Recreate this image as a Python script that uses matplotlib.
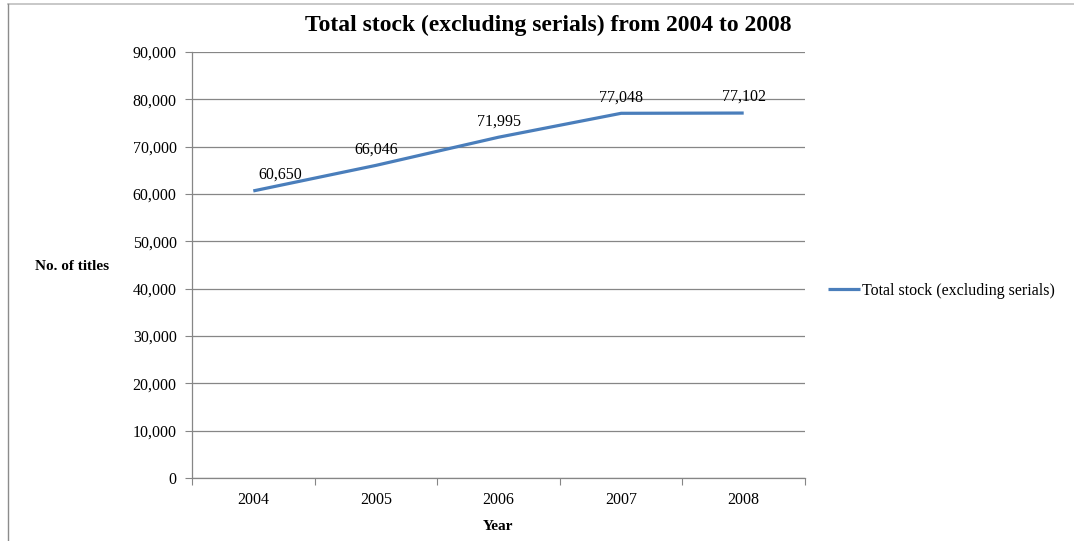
import matplotlib
matplotlib.use('Agg')
import matplotlib.pyplot as plt
from matplotlib.lines import Line2D

years = ['2004', '2005', '2006', '2007', '2008']
stock = [60650, 66046, 71995, 77048, 77102]
label_dx = [27, 0, 0, 0, 0]  # first label sits a bit to the right in the original

plt.rcParams['font.family'] = ['Liberation Serif', 'DejaVu Serif']

fig = plt.figure(figsize=(10.74, 5.41), dpi=100)
ax = fig.add_axes([192 / 1074, 1 - 478 / 541, 613 / 1074, 426 / 541])

x = list(range(len(years)))
ax.plot(x, stock, color='#4A7EBB', lw=2.3, solid_capstyle='butt',
        label='Total stock (excluding serials)')

for xi, v, dx in zip(x, stock, label_dx):
    ax.annotate(f'{v:,}', (xi, v), xytext=(dx, 16), textcoords='offset pixels',
                ha='center', va='center', fontsize=11.5)

ax.set_xlim(-0.5, len(years) - 0.5)
ax.set_ylim(0, 90000)
ax.set_yticks(range(0, 90001, 10000))
ax.set_yticklabels([f'{t:,}' for t in range(0, 90001, 10000)])

# tick marks between categories, labels in the middle
ax.set_xticks([i - 0.5 for i in range(len(years) + 1)])
ax.set_xticklabels([])
ax.set_xticks(x, minor=True)
ax.set_xticklabels(years, minor=True)
ax.tick_params(axis='x', which='major', length=5, color='#868686')
ax.tick_params(axis='x', which='minor', length=0, pad=10, labelsize=11.5)
ax.tick_params(axis='y', length=5, color='#868686', pad=6, labelsize=11.5)

ax.grid(axis='y', color='#868686', lw=0.9)
ax.set_axisbelow(True)
for s in ['top', 'right']:
    ax.spines[s].set_visible(False)
for s in ['left', 'bottom']:
    ax.spines[s].set_color('#868686')
    ax.spines[s].set_linewidth(0.9)

fig.text(548 / 1074, 1 - 25 / 541, 'Total stock (excluding serials) from 2004 to 2008',
         ha='center', va='center', fontsize=17, fontweight='bold')
fig.text(72 / 1074, 1 - 266 / 541, 'No. of titles', ha='center', va='center',
         fontsize=11, fontweight='bold')
fig.text(498 / 1074, 1 - 526 / 541, 'Year', ha='center', va='center',
         fontsize=11, fontweight='bold')

leg = fig.legend(loc='center left', bbox_to_anchor=(822 / 1074, 1 - 291 / 541),
                 frameon=False, fontsize=11.5, handlelength=2.0, handletextpad=0.1,
                 borderaxespad=0)

# chart-area border (only top and left visible in the original)
fig.add_artist(Line2D([8 / 1074, 1], [1 - 4 / 541, 1 - 4 / 541], color='#BFBFBF', lw=1.2))
fig.add_artist(Line2D([8 / 1074, 8 / 1074], [0, 1 - 4 / 541], color='#8C8C8C', lw=1.0))

fig.savefig('out.png', dpi=100)
